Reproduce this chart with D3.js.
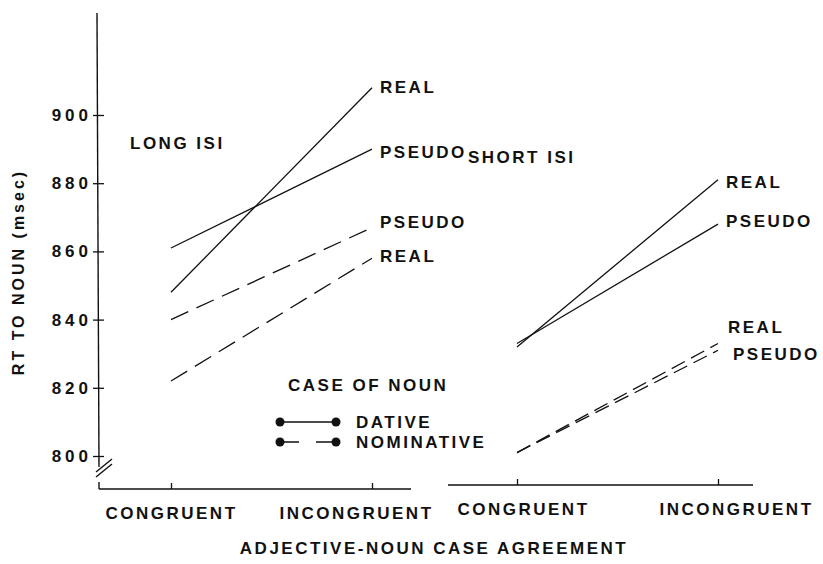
<!DOCTYPE html>
<html>
<head>
<meta charset="utf-8">
<script src="https://cdn.jsdelivr.net/npm/d3@7"></script>
<style>
  body { margin: 0; background: #fff; }
  svg text { font-family: "Liberation Sans", Arial, sans-serif; font-weight: bold; fill: #111; }
</style>
</head>
<body>
<div id="chart"></div>
<script>
// values (msec)
var conditions = ["CONGRUENT", "INCONGRUENT"];
var yTicks = [800, 820, 840, 860, 880, 900];

var longDativeReal = [848, 908];
var longDativePseudo = [861, 890];
var longNominativePseudo = [840, 867];
var longNominativeReal = [822, 858];

var shortDativeReal = [832, 881];
var shortDativePseudo = [833, 868];
var shortNominativeReal = [801, 833];
var shortNominativePseudo = [801, 831];

var series = [
    {panel: "long", noun: "dative", word: "REAL", values: longDativeReal},
    {panel: "long", noun: "dative", word: "PSEUDO", values: longDativePseudo},
    {panel: "long", noun: "nominative", word: "PSEUDO", values: longNominativePseudo},
    {panel: "long", noun: "nominative", word: "REAL", values: longNominativeReal},
    {panel: "short", noun: "dative", word: "REAL", values: shortDativeReal},
    {panel: "short", noun: "dative", word: "PSEUDO", values: shortDativePseudo},
    {panel: "short", noun: "nominative", word: "REAL", values: shortNominativeReal},
    {panel: "short", noun: "nominative", word: "PSEUDO", values: shortNominativePseudo}
];

// small label nudges so end labels don't collide (dx, dy)
var labelNudge = [[0, -1], [0, 3], [0, -6], [0, -2], [0, 2], [0, -3], [2, -16], [7, 4]];

var width = 823, height = 564;
var svg = d3.select("#chart").append("svg")
    .attr("width", width)
    .attr("height", height);

var y = d3.scaleLinear().domain([800, 900]).range([456, 115]);
var x = {
    long: d3.scalePoint().domain(conditions).range([171, 372]),
    short: d3.scalePoint().domain(conditions).range([517, 718])
};
var axisY = {long: 489, short: 485};
var axisExtent = {long: [99, 411], short: [448, 753]};
var dash = {long: "19,9", short: "15,7"};
var labelDx = {long: [0, -16], short: [6, 18]};

var yAxisX = 99;

// Draw the y axis ------------------------------
svg.append("line")
    .attr("x1", yAxisX - 2).attr("y1", 13)
    .attr("x2", yAxisX).attr("y2", y(800) + 11)
    .attr("stroke", "#111").attr("stroke-width", 1.4);
svg.append("line")
    .attr("x1", yAxisX).attr("y1", y(800) + 26)
    .attr("x2", yAxisX).attr("y2", axisY.long)
    .attr("stroke", "#111").attr("stroke-width", 1.4);
// axis break
[0, 5].forEach(function (off) {
    svg.append("line")
        .attr("x1", yAxisX - 3).attr("y1", y(800) + 21 - off)
        .attr("x2", yAxisX + 13).attr("y2", y(800) + 8 - off)
        .attr("stroke", "#111").attr("stroke-width", 1.4);
});

var yaxis = d3.axisLeft(y)
    .tickValues(yTicks)
    .tickSize(11)
    .tickPadding(1)
    .tickFormat(d3.format("d"));

var gy = svg.append("g")
    .attr("transform", "translate(" + (yAxisX + 5) + ",0)")
    .call(yaxis);
gy.select(".domain").remove();
gy.selectAll("line").attr("stroke", "#111").attr("stroke-width", 1.3);
gy.selectAll("text")
    .style("font-size", "17px")
    .style("letter-spacing", "4px")
    .attr("fill", "#111");

svg.append("text")
    .attr("transform", "translate(24,272) rotate(-90)")
    .style("text-anchor", "middle")
    .style("font-size", "16px")
    .style("letter-spacing", "3px")
    .text("RT TO NOUN (msec)");

// Draw the x axes ------------------------------
["long", "short"].forEach(function (p) {
    svg.append("line")
        .attr("x1", axisExtent[p][0]).attr("y1", axisY[p])
        .attr("x2", axisExtent[p][1]).attr("y2", axisY[p])
        .attr("stroke", "#111").attr("stroke-width", 1.4);

    var xaxis = d3.axisBottom(x[p]).tickSizeInner(-6).tickSizeOuter(0).tickPadding(18);
    var gx = svg.append("g")
        .attr("transform", "translate(0," + axisY[p] + ")")
        .call(xaxis);
    gx.select(".domain").remove();
    gx.selectAll("line").attr("stroke", "#111").attr("stroke-width", 1.3);
    gx.selectAll("text")
        .style("font-size", "17px")
        .style("letter-spacing", "2.5px")
        .attr("fill", "#111")
        .attr("dx", function (d, i) { return labelDx[p][i]; });
});

svg.append("text")
    .attr("x", 434).attr("y", 554)
    .style("text-anchor", "middle")
    .style("font-size", "17px")
    .style("letter-spacing", "2.5px")
    .text("ADJECTIVE-NOUN CASE AGREEMENT");

// Panel titles
svg.append("text").attr("x", 130).attr("y", 149)
    .style("font-size", "17px").style("letter-spacing", "2.5px").text("LONG ISI");
svg.append("text").attr("x", 468).attr("y", 163)
    .style("font-size", "17px").style("letter-spacing", "2.5px").text("SHORT ISI");

// Lines ------------------------------
var valueline = function (s) {
    return d3.line()
        .x(function (d, i) { return x[s.panel](conditions[i]); })
        .y(function (d) { return y(d); })(s.values);
};

svg.append("g").selectAll("path")
    .data(series)
    .enter().append("path")
    .attr("d", valueline)
    .attr("fill", "none")
    .attr("stroke", "#111")
    .attr("stroke-width", 1.3)
    .attr("stroke-dasharray", function (s) { return s.noun === "nominative" ? dash[s.panel] : null; });

svg.append("g").selectAll("text")
    .data(series)
    .enter().append("text")
    .attr("x", function (s, i) { return x[s.panel](conditions[1]) + 8 + labelNudge[i][0]; })
    .attr("y", function (s, i) { return y(s.values[1]) + 6 + labelNudge[i][1]; })
    .style("font-size", "17px")
    .style("letter-spacing", "2.5px")
    .text(function (s) { return s.word; });

// Legend ------------------------------
var legend = svg.append("g");
legend.append("text").attr("x", 288).attr("y", 391)
    .style("font-size", "17px").style("letter-spacing", "2.5px").text("CASE OF NOUN");

var legendItems = [
    {name: "DATIVE", dash: null, y: 422},
    {name: "NOMINATIVE", dash: "19,17", y: 442}
];
legendItems.forEach(function (d) {
    legend.append("line")
        .attr("x1", 280).attr("y1", d.y)
        .attr("x2", 336).attr("y2", d.y)
        .attr("stroke", "#111").attr("stroke-width", 1.4)
        .attr("stroke-dasharray", d.dash);
    [280, 336].forEach(function (cx) {
        legend.append("circle").attr("cx", cx).attr("cy", d.y).attr("r", 4.5).attr("fill", "#111");
    });
    legend.append("text").attr("x", 356).attr("y", d.y + 6)
        .style("font-size", "17px").style("letter-spacing", "2.5px").text(d.name);
});
</script>
</body>
</html>
